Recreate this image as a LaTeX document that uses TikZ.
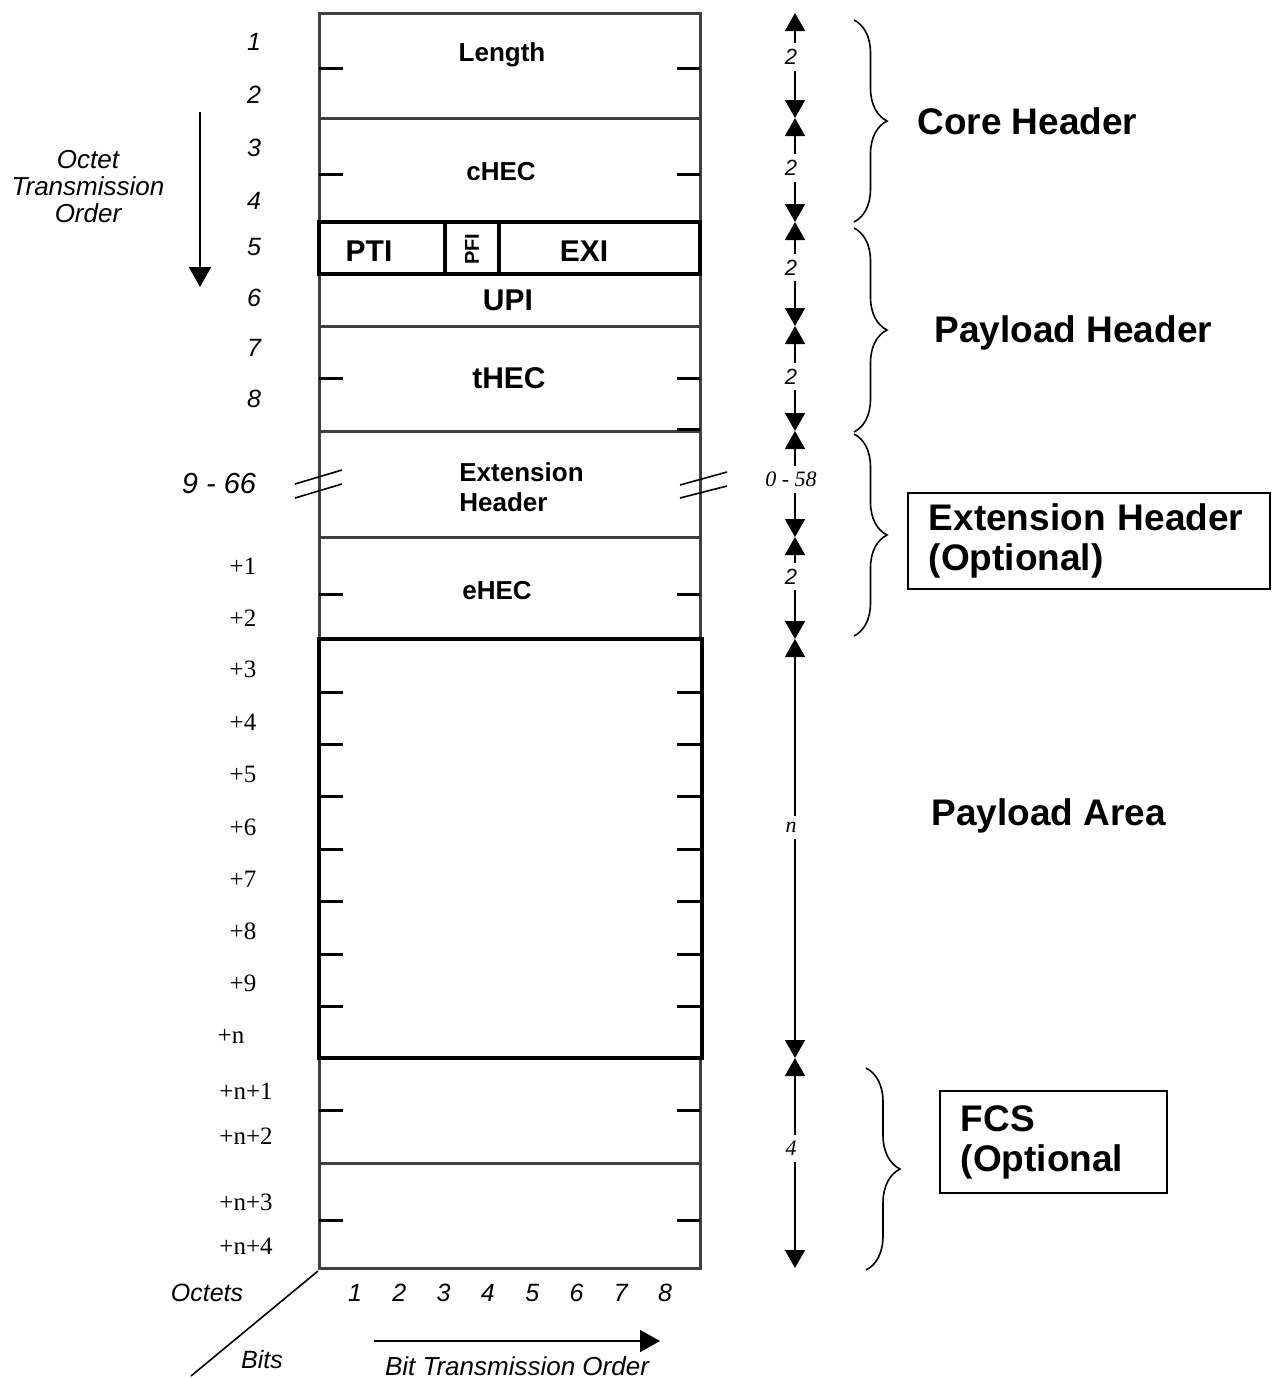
\documentclass[tikz,border=0pt]{standalone}
\usepackage{fontspec}
\setmainfont{Liberation Sans}
\newfontfamily\serifnum{Liberation Serif}
\usetikzlibrary{arrows.meta,decorations.pathreplacing}

\begin{document}
\begin{tikzpicture}[x=0.5pt, y=-0.5pt, every node/.style={inner sep=0pt},
  row/.style={draw=black!75, line width=1.5pt},
  rowbold/.style={draw=black, line width=1.8pt},
  tick/.style={line width=1.5pt},
  field/.style={font=\bfseries\fontsize{13}{15}\selectfont},
  bigfield/.style={font=\bfseries\fontsize{15}{17}\selectfont},
  part/.style={font=\bfseries\fontsize{18.5}{20}\selectfont, align=left},
  octno/.style={font=\itshape\fontsize{12.5}{14}\selectfont},
  plusno/.style={font=\serifnum\fontsize{12.5}{14}\selectfont},
  dim/.style={line width=0.8pt, {Triangle[width=10pt,length=9pt]}-{Triangle[width=10pt,length=9pt]}},
  dimlbl/.style={fill=white, inner xsep=1pt, inner ysep=3pt, xshift=-2pt, font=\itshape\fontsize{11}{12}\selectfont},
  dimser/.style={dimlbl, font=\serifnum\itshape\fontsize{11}{13}\selectfont},
  grp/.style={decorate, decoration={brace, amplitude=16.5pt}, line width=0.8pt}]
\useasboundingbox (0,0) rectangle (1277,1378);

% octet rows
\draw[row] (319,13) rectangle (700,118);
\draw[row] (319,118) rectangle (700,222);
\draw[row] (319,274) rectangle (700,326);
\draw[row] (319,326) rectangle (700,431);
\draw[row] (319,431) rectangle (700,537);
\draw[row] (319,537) rectangle (700,639);
\draw[row] (319,1058) rectangle (700,1163);
\draw[row] (319,1163) rectangle (700,1268);
\draw[rowbold] (319,222) rectangle (700,274) (445,222) -- (445,274) (499,222) -- (499,274);
\draw[rowbold] (319,639) rectangle (702,1058);
\foreach \y in {68,174,378,594,692,744,796,849,901,954,1006,1110,1220}
  \draw[tick] (319,\y) -- (343,\y) (677,\y) -- (700,\y);
\draw[tick] (677,429) -- (700,429);

% field names
\node[field] (len) at (502,55) {Length};
\node[field] (chec) at (501,172) {cHEC};
\node[bigfield] (pti) at (369,251) {PTI};
\node[font=\bfseries\fontsize{10}{12}\selectfont, rotate=90] (pfi) at (472,249) {PFI};
\node[bigfield] (exi) at (584,251) {EXI};
\node[bigfield] (upi) at (508,300) {UPI};
\node[bigfield] (thec) at (509,378) {tHEC};
\node[field, align=left, anchor=west] (ext) at (459,487) {Extension\\Header};
\node[field] (ehec) at (497,591) {eHEC};

% octet numbers
\foreach \n/\y in {1/42,2/95,3/148,4/201,5/247,6/298,7/348,8/399}
  \node[octno] (o\n) at (254,\y) {\n};
\node[octno, font=\itshape\fontsize{14.5}{16}\selectfont] (o9) at (219,484) {9 - 66};
\draw[line width=0.8pt] (295,484) -- (342,470) (295,498) -- (342,484);
\draw[line width=0.8pt] (680,485) -- (727,472) (680,498) -- (727,486);
\foreach \n/\y in {1/566,2/618,3/669,4/722,5/774,6/827,7/879,8/931,9/983}
  \node[plusno] (p\n) at (243,\y) {+\n};
\node[plusno] (pn) at (231,1036) {+n};
\node[plusno] (pn1) at (246,1091) {+n+1};
\node[plusno] (pn2) at (246,1136) {+n+2};
\node[plusno] (pn3) at (246,1202) {+n+3};
\node[plusno] (pn4) at (246,1246) {+n+4};

% octet order
\node[font=\itshape\fontsize{13}{13.5}\selectfont, align=center] (oto) at (88,187) {Octet\\Transmission\\Order};
\coordinate (otoS) at (200,112);
\coordinate (otoE) at (200,287);
\draw[line width=0.8pt, -{Triangle[width=11pt,length=10pt]}] (otoS) -- (otoE);

% sizes
\foreach \i/\y in {0/13,1/118,2/222,3/326,4/431,5/537,6/639,7/1058,8/1268}
  \coordinate (d\i) at (795,\y);
\draw[dim] (d0) -- node[dimlbl, pos=.42] (l1) {2} (d1);
\draw[dim] (d1) -- node[dimlbl, pos=.48] (l2) {2} (d2);
\draw[dim] (d2) -- node[dimlbl, pos=.44] (l3) {2} (d3);
\draw[dim] (d3) -- node[dimlbl, pos=.48] (l4) {2} (d4);
\draw[dim] (d4) -- node[dimser, pos=.46] (l5) {0 - 58} (d5);
\draw[dim] (d5) -- node[dimlbl, pos=.39] (l6) {2} (d6);
\draw[dim] (d6) -- node[dimser, pos=.45] (l7) {n} (d7);
\draw[dim] (d7) -- node[dimser, pos=.43] (l8) {4} (d8);

% groups
\draw[grp] (854,20) -- (854,222);
\draw[grp] (854,228) -- (854,432);
\draw[grp] (854,434) -- (854,636);
\draw[grp, decoration={amplitude=17pt}] (866,1068) -- (866,1270);
\node[part, anchor=west] (core) at (917,121) {Core Header};
\node[part, anchor=west] (plhdr) at (934,333) {Payload Header};
\node[part, draw, line width=0.8pt, anchor=west, inner xsep=10.5pt, inner ysep=5.5pt, text width=160pt] (exthdr) at (907,541) {Extension Header\\(Optional)};
\node[part, anchor=west] (plarea) at (931,816) {Payload Area};
\node[part, draw, line width=0.8pt, anchor=west, inner xsep=10.5pt, inner ysep=7pt, text width=92.5pt] (fcs) at (939,1142) {FCS\\(Optional};

% bits
\foreach \b in {1,...,8}
  \node[octno] (bit\b) at ({355+(\b-1)*44.3},1293) {\b};
\node[octno] (octets) at (207,1293) {Octets};
\node[octno] (bits) at (262,1360) {Bits};
\node[octno, font=\itshape\fontsize{13}{14}\selectfont] (bto) at (517,1366) {Bit Transmission Order};
\coordinate (corner) at (318,1271);
\coordinate (diagE) at (191,1376);
\draw[line width=0.8pt] (corner) -- (diagE);
\coordinate (btoS) at (374,1341);
\coordinate (btoE) at (660,1341);
\draw[line width=0.8pt, -{Triangle[width=11pt,length=10pt]}] (btoS) -- (btoE);
\end{tikzpicture}
\end{document}
